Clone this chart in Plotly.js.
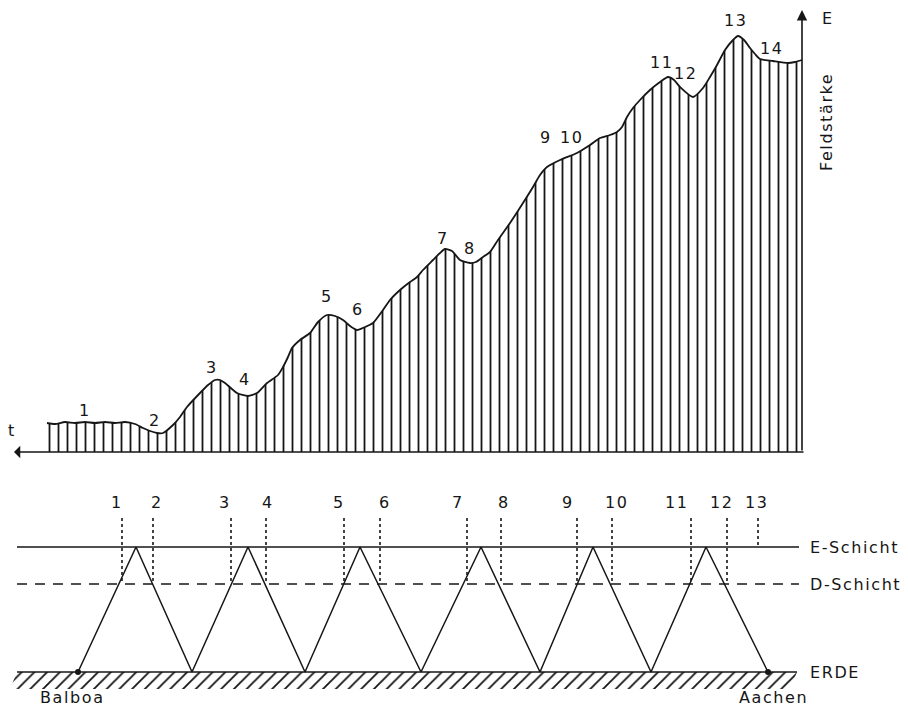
<!DOCTYPE html>
<html><head><meta charset="utf-8">
<script src="https://cdn.plot.ly/plotly-3.0.1.min.js"></script>
<style>
body{margin:0;background:#fff}
#c{width:908px;height:707px}
.annotation-text{letter-spacing:1.6px}
</style></head>
<body><div id="c"></div>
<script>
// ---- top chart: field strength along the path (x: horizontal position, y: field strength units) ----
const pathX = [47,55,65,75,85,95,105,115,125,135,143,150,157,163,173,180,187,200,208,215,220,225,237,248,257,267,278,283,288,292,300,310,318,327,335,343,350,357,365,373,383,390,400,410,417,423,433,440,445,452,460,470,476,483,490,498,510,523,533,540,547,560,577,590,600,610,617,622,627,633,640,650,660,668,674,680,693,703,710,717,725,733,738,744,750,755,760,773,788,795,802];
const feldY = [29,28,30,29,30,29,30,29,30,28,24,21,19,19,27,35,45,59,67,72,72,69,59,56,59,69,77,85,95,104,112,119,130,137,136,132,126,122,125,129,142,152,162,170,175,182,192,199,203,201,192,189,190,195,200,212,229,249,265,277,285,292,299,307,314,317,320,325,335,344,352,362,370,375,372,365,355,364,375,387,402,412,416,412,404,398,393,391,389,390,392];
const peakLabels = ['1','2','3','4','5','6','7','8','9','10','11','12','13','14'];
const peakLabelX = [85,155,212,245,327,358,443,470,546,572,662,686,736,772];
const peakLabelY = [42,32,85,73,156,143,214,204,315,315,390,379,432,404];

// ---- bottom diagram: ray path between earth and E-layer (heights: ERDE=0, D=88, E=125) ----
const layerStart = 17, layerEnd = 799;
const hErde = 0, hD = 88, hE = 125;
const rayX = [78,136,192,248,305,360,421,481,540,593,651,706,768];
const rayH = [0,125,0,125,0,125,0,125,0,125,0,125,0];
const markNames = ['1','2','3','4','5','6','7','8','9','10','11','12','13'];
const markX = [122,153,231,266,344,380,467,501,577,612,691,727,758];
const markBottom = [88,88,88,88,88,88,88,88,88,88,88,88,125];
const markTop = 154;
const markLabelX = [117,157,225,268,339,385,458,504,568,617,677,722,757];
const layerNames = ['E-Schicht','D-Schicht','ERDE'];
const layerH = [hE, hD, hErde];

const ink = '#161616';
const fnt = {family:'DejaVu Sans, sans-serif', size:16, color:ink};

const traces = [];
// hatched field-strength area
traces.push({x:pathX, y:feldY, type:'scatter', mode:'lines', xaxis:'x', yaxis:'y',
  line:{color:ink, width:1.8, shape:'spline', smoothing:0.6},
  fill:'tozeroy', fillcolor:'rgba(0,0,0,0)',
  fillpattern:{shape:'|', size:9, solidity:0.2, fgcolor:ink, bgcolor:'white', fillmode:'replace'},
  hoverinfo:'skip'});
// layers
traces.push({x:[layerStart,layerEnd], y:[hE,hE], type:'scatter', mode:'lines', xaxis:'x2', yaxis:'y2', line:{color:ink,width:1.3}});
traces.push({x:[layerStart,layerEnd], y:[hD,hD], type:'scatter', mode:'lines', xaxis:'x2', yaxis:'y2', line:{color:ink,width:1.5,dash:'10px,8px'}});
// ground hatching
traces.push({x:[10,17,797,790,10], y:[-17,0,0,-17,-17], type:'scatter', mode:'lines', xaxis:'x2', yaxis:'y2',
  line:{width:0,color:'rgba(0,0,0,0)'}, fill:'toself', fillcolor:'rgba(0,0,0,0)',
  fillpattern:{shape:'/', size:9, solidity:0.2, fgcolor:ink, bgcolor:'white', fillmode:'replace'}});
traces.push({x:[layerStart,797], y:[hErde,hErde], type:'scatter', mode:'lines', xaxis:'x2', yaxis:'y2', line:{color:ink,width:1.7}});
// ray
traces.push({x:rayX, y:rayH, type:'scatter', mode:'lines', xaxis:'x2', yaxis:'y2', line:{color:ink,width:1.5}});
traces.push({x:[rayX[0], rayX[rayX.length-1]], y:[0,0], type:'scatter', mode:'markers', xaxis:'x2', yaxis:'y2', marker:{color:ink,size:6}});
// dotted marks
const dx=[], dy=[];
markX.forEach((v,i)=>{dx.push(v,v,null); dy.push(markTop, markBottom[i], null);});
traces.push({x:dx, y:dy, type:'scatter', mode:'lines', xaxis:'x2', yaxis:'y2', line:{color:ink,width:1.6,dash:'dot'}});

const ann = [];
peakLabels.forEach((t,i)=>ann.push({x:peakLabelX[i], y:peakLabelY[i], xref:'x', yref:'y', text:t, showarrow:false, font:fnt}));
markNames.forEach((t,i)=>ann.push({x:markLabelX[i], y:170, xref:'x2', yref:'y2', text:t, showarrow:false, font:fnt}));
layerNames.forEach((t,i)=>ann.push({x:808, y:layerH[i], xref:'x2', yref:'y2', text:t, showarrow:false, xanchor:'left', font:fnt}));
ann.push({x:38, y:-25, xref:'x2', yref:'y2', text:'Balboa', showarrow:false, xanchor:'left', font:fnt});
ann.push({x:737, y:-25, xref:'x2', yref:'y2', text:'Aachen', showarrow:false, xanchor:'left', font:fnt});
// axes arrows
ann.push({x:14, y:0, ax:805, ay:0, xref:'x', yref:'y', axref:'x', ayref:'y', text:'', showarrow:true, arrowhead:1, arrowsize:1.3, arrowwidth:1.6, arrowcolor:ink});
ann.push({x:802, y:442, ax:802, ay:0, xref:'x', yref:'y', axref:'x', ayref:'y', text:'', showarrow:true, arrowhead:2, arrowsize:1.3, arrowwidth:1.6, arrowcolor:ink});
ann.push({x:12, y:22, xref:'x', yref:'y', text:'t', showarrow:false, font:fnt});
ann.push({x:828, y:434, xref:'x', yref:'y', text:'E', showarrow:false, font:fnt});
ann.push({x:826, y:330, xref:'x', yref:'y', text:'Feldstärke', showarrow:false, textangle:-90, font:fnt});

const hid = {visible:false, fixedrange:true};
const layout = {
  width:908, height:707, margin:{l:0,r:0,t:0,b:0}, showlegend:false,
  paper_bgcolor:'white', plot_bgcolor:'rgba(0,0,0,0)',
  xaxis:Object.assign({range:[0,908], domain:[0,1], anchor:'y'}, hid),
  yaxis:Object.assign({range:[0,452], domain:[1-452/707,1], anchor:'x'}, hid),
  xaxis2:Object.assign({range:[0,908], domain:[0,1], anchor:'y2'}, hid),
  yaxis2:Object.assign({range:[-35,220], domain:[0,1-452/707], anchor:'x2'}, hid),
  annotations:ann
};
Plotly.newPlot('c', traces, layout, {staticPlot:true});
</script></body></html>
